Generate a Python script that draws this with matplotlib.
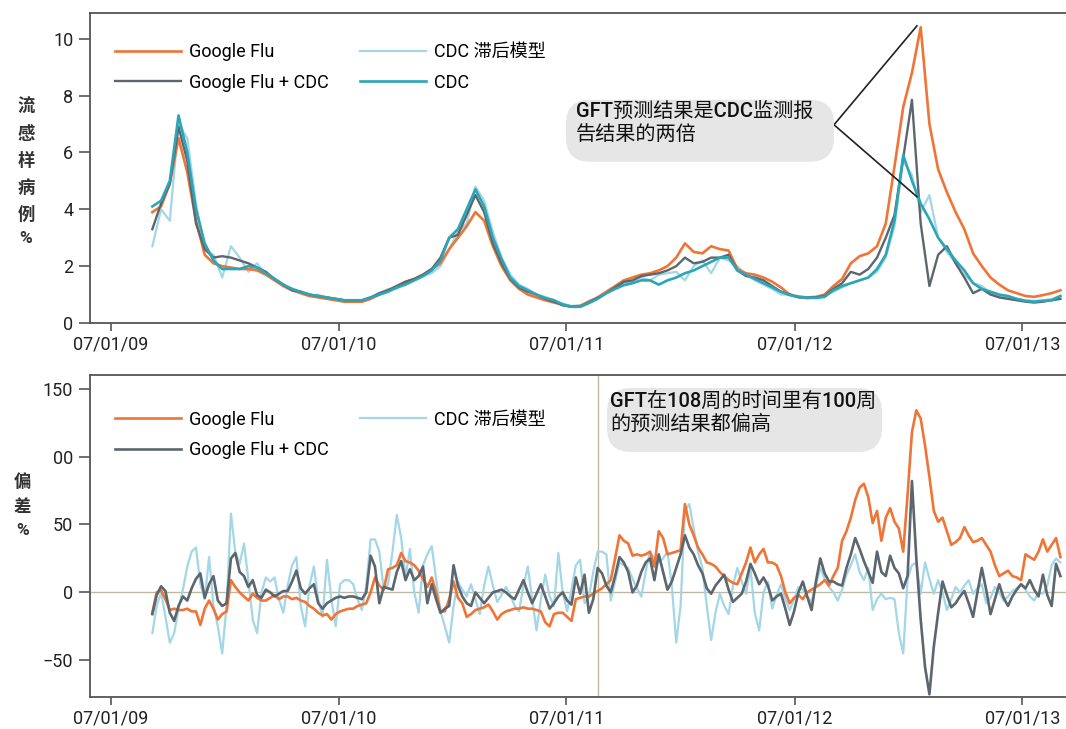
import matplotlib
matplotlib.use("Agg")
import matplotlib.pyplot as plt
import matplotlib.dates as mdates
from matplotlib.patches import FancyBboxPatch
import pandas as pd

plt.rcParams['font.family'] = ['Roboto', 'Noto Sans CJK SC', 'DejaVu Sans']

# colours of the four series
C_GF = '#f07436'
C_GFCDC = '#5b666e'
C_LAG = '#a3d6e6'
C_CDC = '#2ba6b7'

# top panel: ILI % (every two weeks)
top_dates = pd.date_range('2009-09-05', periods=105, freq='14D')

ili_cdc = [4.1, 4.3, 5.0, 7.3, 6.0, 4.0, 2.8, 2.2, 1.9, 1.9,
           1.9, 2.0, 1.95, 1.75, 1.55, 1.35, 1.2, 1.1, 1.0, 0.95,
           0.9, 0.85, 0.8, 0.8, 0.8, 0.9, 1.0, 1.1, 1.25, 1.35,
           1.5, 1.65, 1.85, 2.2, 3.0, 3.3, 4.0, 4.7, 4.1, 3.0,
           2.25, 1.6, 1.3, 1.15, 1.0, 0.88, 0.8, 0.65, 0.57, 0.57,
           0.7, 0.85, 1.05, 1.2, 1.33, 1.4, 1.5, 1.5, 1.35, 1.5,
           1.6, 1.75, 1.85, 2.0, 2.15, 2.3, 2.3, 1.85, 1.7, 1.55,
           1.4, 1.25, 1.1, 0.98, 0.92, 0.9, 0.88, 0.92, 1.15, 1.3,
           1.4, 1.5, 1.6, 1.9, 2.4, 3.6, 5.9, 5.0, 4.2, 3.65,
           3.0, 2.6, 2.2, 1.85, 1.4, 1.2, 1.1, 1.0, 0.95, 0.85,
           0.78, 0.75, 0.78, 0.8, 0.95]

ili_google = [3.9, 4.1, 4.9, 6.5, 5.3, 3.6, 2.4, 2.1, 2.0, 1.95,
              1.9, 1.9, 1.85, 1.7, 1.5, 1.3, 1.15, 1.05, 0.95, 0.9,
              0.85, 0.8, 0.75, 0.75, 0.75, 0.85, 1.0, 1.15, 1.3, 1.45,
              1.55, 1.7, 1.9, 2.1, 2.6, 3.0, 3.4, 3.9, 3.6, 2.7,
              2.0, 1.5, 1.2, 1.0, 0.9, 0.8, 0.72, 0.65, 0.58, 0.6,
              0.75, 0.9, 1.1, 1.3, 1.5, 1.6, 1.7, 1.75, 1.85, 2.0,
              2.3, 2.8, 2.5, 2.45, 2.7, 2.6, 2.55, 1.9, 1.75, 1.7,
              1.6, 1.45, 1.25, 1.0, 0.92, 0.9, 0.92, 1.0, 1.3, 1.55,
              2.1, 2.35, 2.45, 2.7, 3.5, 5.5, 7.6, 8.8, 10.4, 7.0,
              5.4, 4.6, 3.9, 3.3, 2.45, 2.0, 1.6, 1.35, 1.15, 1.05,
              0.95, 0.92, 0.98, 1.05, 1.15]

ili_google_cdc = [3.3, 4.2, 4.9, 6.9, 5.7, 3.5, 2.6, 2.3, 2.35, 2.3,
                  2.2, 2.1, 1.95, 1.8, 1.55, 1.35, 1.15, 1.1, 1.0, 0.95,
                  0.9, 0.85, 0.8, 0.8, 0.8, 0.9, 1.05, 1.15, 1.3, 1.45,
                  1.55, 1.7, 1.9, 2.3, 3.0, 3.1, 3.8, 4.5, 3.9, 2.8,
                  2.1, 1.55, 1.25, 1.1, 1.0, 0.85, 0.75, 0.62, 0.57, 0.58,
                  0.72, 0.88, 1.05, 1.25, 1.45, 1.5, 1.65, 1.7, 1.75, 1.85,
                  2.0, 2.3, 2.1, 2.15, 2.3, 2.3, 2.4, 1.85, 1.65, 1.6,
                  1.5, 1.3, 1.1, 1.0, 0.9, 0.9, 0.9, 0.95, 1.2, 1.4,
                  1.8, 1.7, 1.9, 2.3, 3.0, 3.8, 5.8, 7.85, 3.5, 1.3,
                  2.4, 2.7, 2.1, 1.6, 1.05, 1.2, 1.0, 0.9, 0.85, 0.8,
                  0.75, 0.72, 0.75, 0.8, 0.85]

ili_lagged = [2.7, 4.0, 3.6, 7.0, 6.5, 4.2, 2.6, 2.4, 1.6, 2.7,
              2.3, 1.8, 2.1, 1.7, 1.55, 1.35, 1.2, 1.05, 0.95, 1.0,
              0.85, 0.85, 0.8, 0.8, 0.75, 0.85, 1.05, 1.2, 1.2, 1.4,
              1.5, 1.65, 1.75, 2.0, 2.6, 3.2, 3.5, 4.8, 4.3, 3.2,
              2.3, 1.7, 1.35, 1.2, 1.0, 0.92, 0.8, 0.68, 0.6, 0.62,
              0.78, 0.9, 1.05, 1.2, 1.4, 1.45, 1.6, 1.5, 1.7, 1.75,
              1.8, 1.5, 2.0, 2.2, 1.75, 2.3, 2.2, 2.0, 1.7, 1.5,
              1.35, 1.2, 1.0, 1.0, 0.95, 0.85, 0.9, 1.0, 1.1, 1.25,
              1.4, 1.5, 1.6, 1.8, 2.3, 3.4, 5.7, 5.2, 3.9, 4.5,
              3.0, 2.5, 2.1, 1.7, 1.4, 1.3, 1.05, 0.95, 0.9, 0.85,
              0.8, 0.78, 0.8, 0.85, 0.95]

# bottom panel: error % (weekly)
bottom_dates = pd.date_range('2009-09-05', periods=209, freq='7D')

err_google = [-15,
              0, 1.5, -5, -13, -12, -13, -13, -12, -14, -14, -24, -12, -6, -12, -20, -16, -14, 9, 4, 0, -3,
              -6, -1, -4, -6, -6, -4, -2, -5, -3, -3, -5, -4, -6, -7, -10, -12, -15, -17, -16, -20,
              -16, -14, -13, -12, -12, -10, -9, -8, 0, 11, 5, 2, 17, 18, 20, 29, 23, 22,
              20, 16, 10, 4, 11, 0, -14, -14, -5, 8, -4, -8, -18, -16, -13, -12, -11, -9, -14, -20,
              -16, -14, -13, -12, -12, -11, -12, -12, -13, -14, -22, -25, -16, -15, -15, -18, -21, -5, -4,
              -3, -3, -1, 1, 3, 6, 9, 25, 42, 38, 36, 27, 28, 27, 28, 30, 19, 45, 40, 28,
              29, 30, 31, 65, 50, 42, 33, 28, 22, 21, 19, 15, 12, 9, 7, 6, 14, 22,
              33, 22, 28, 32, 22, 22, 20, 12, 0, -8, -4, -2, -5, 0, 2, 4, 6, 9, 5, 12,
              18, 38, 45, 55, 68, 77, 80, 70, 51, 60, 38, 55, 62, 52, 47, 30, 72, 118,
              134, 128, 108, 85, 60, 52, 55, 45, 35, 37, 40, 48, 42, 37, 38, 40, 35, 30, 20, 12,
              14, 16, 12, 11, 9, 28, 26, 24, 30, 39, 30, 35, 40, 26]

err_google_cdc = [-16,
                  -2, 4.5, 1, -15, -21, -10, -3, -6, 3, 10, 14, -4, 6, 12, -6, -10, -8, 25, 29, 15, 12,
                  4, 9, -2, -4, 2, 0, -3, -1, 1, 1, 8, 16, 3, -1, 3, 6, -8, -12, -8, -6,
                  -4, -3, -4, -3, -3, -4, -5, 0, 27, 19, -8, 4, 3, 2, 15, 23, 9, 17,
                  9, 12, 19, -8, 6, -5, -15, -12, -10, 20, 5, -3, -8, -10, 0, -4, -8, -4, 0, 1,
                  2, 0, -3, -5, 2, 9, 0, -8, -1, 6, -3, -12, -8, -3, 0, -6, -9, 11, -1,
                  13, -15, -5, 18, 14, 5, 0, 12, 26, 22, 15, 0, 5, 15, 22, 25, 9, 28, 15, 2,
                  8, 18, 28, 42, 33, 28, 20, 14, 3, -1, 5, 9, 13, 2, -7, -4, -1, 8,
                  21, 14, 6, 11, 5, -6, -3, -1, -12, -24, -14, 0, 8, -3, -13, 8, 25, 14, 8, 8,
                  6, 5, 18, 28, 40, 32, 23, 15, 7, 30, 15, 12, 27, 18, 14, 3, 12, 82,
                  25, -20, -55, -75, -40, -15, 8, -2, -11, -8, -3, 1, -8, -18, 0, 18, 2, -16, -5, 6,
                  -4, -10, -3, 2, 6, 3, 9, 2, -3, 13, -2, -10, 21, 12]

err_lagged = [-30,
              -10, 0, -18, -37, -30, -12, 2, 19, 30, 33, 6, -5, 26, -10, -25, -45, -10, 58, 30, 21, 36,
              9, -20, -30, 0, 11, 8, 11, -5, -15, 5, 20, 26, -10, -25, 5, 19, -5, -18, 24, -5,
              -25, 6, 9, 9, 6, -5, -13, 5, 39, 39, 30, 2, 6, 30, 57, 40, 11, 32,
              0, -15, 20, 28, 34, 10, -14, -25, -37, -10, 8, 2, -3, 6, -5, -16, 5, 19, 5, -7,
              -2, 4, -2, -10, -14, 5, 19, -5, -28, -5, 13, -3, -10, 29, 0, -14, 2, 20, 24,
              -8, -3, 15, 30, 30, 28, -6, 8, 22, 20, 18, 10, 3, -3, 15, 30, 25, 22, 25, 30,
              5, -37, -10, 60, 65, 47, 30, 18, -10, -35, -15, -1, -10, -16, 5, 18, 8, -1,
              18, -15, -28, 0, 8, -12, -2, 6, -5, -13, -5, 4, 2, -3, -7, 5, 18, 10, 4, 0,
              -6, 2, 13, 20, 28, 15, 9, 18, -13, -5, -1, -5, -4, -5, -30, -45, 10, 20,
              22, -1, 22, 10, -1, 9, 0, -13, -5, 4, 0, 5, 9, -1, 3, 6, -8, -4, 4, 0,
              -6, -3, 1, 3, 6, 2, -3, -6, 0, -1, 5, 20, 25, 22]

tick_dates = ['2009-07-01', '2010-07-01', '2011-07-01', '2012-07-01', '2013-07-01']
top_yticks = [0, 2, 4, 6, 8, 10]
bottom_yticks = [-50, 0, 50, 100, 150]
bottom_ylabels = ['\u221250', '0', '50', '00', '150']

# callout wedge pointing at the 2013 peak, and the start of the GFT over-estimation
wedge_dates = ['2013-01-13', '2012-09-02', '2013-01-13']
wedge_vals = [10.45, 6.97, 4.44]
marker_date = '2011-08-21'

fig = plt.figure(figsize=(10.66, 7.29), dpi=100)
ax1 = fig.add_axes([0.0844, 0.5569, 0.9156, 0.4252])
ax2 = fig.add_axes([0.0844, 0.0439, 0.9156, 0.4417])

# top panel lines
ax1.plot(top_dates, ili_lagged, color=C_LAG, lw=1.6, label='CDC 滞后模型')
ax1.plot(top_dates, ili_google, color=C_GF, lw=1.9, label='Google Flu')
ax1.plot(top_dates, ili_google_cdc, color=C_GFCDC, lw=1.7, label='Google Flu + CDC')
ax1.plot(top_dates, ili_cdc, color=C_CDC, lw=1.9, label='CDC')
ax1.plot(pd.to_datetime(wedge_dates), wedge_vals, color='#222222', lw=1.2)

# bottom panel lines
ax2.axhline(0, color='#bdb8a4', lw=1, zorder=1)
ax2.axvline(pd.Timestamp(marker_date), color='#bdb8a4', lw=1, zorder=1)
ax2.plot(bottom_dates, err_lagged, color=C_LAG, lw=1.6, label='CDC 滞后模型')
ax2.plot(bottom_dates, err_google, color=C_GF, lw=1.9, label='Google Flu')
ax2.plot(bottom_dates, err_google_cdc, color=C_GFCDC, lw=1.9, label='Google Flu + CDC')

xmin, xmax = pd.Timestamp('2009-05-28'), pd.Timestamp('2013-09-09')
for ax in (ax1, ax2):
    ax.set_xlim(xmin, xmax)
    ax.set_xticks(pd.to_datetime(tick_dates))
    ax.xaxis.set_major_formatter(mdates.DateFormatter('%m/%d/%y'))
    ax.spines['right'].set_visible(False)
    for s in ('left', 'bottom', 'top'):
        ax.spines[s].set_color('#555555')
        ax.spines[s].set_linewidth(1.3)
    ax.tick_params(axis='y', direction='out', length=8, width=1.2, color='#555555',
                   labelsize=13, pad=4, labelcolor='#222222')
    ax.tick_params(axis='x', direction='out', length=6, width=1.2, color='#555555',
                   labelsize=13, pad=3, labelcolor='#222222')

ax1.set_ylim(0, 10.9)
ax1.set_yticks(top_yticks)
ax2.set_ylim(-77, 160)
ax2.set_yticks(bottom_yticks, bottom_ylabels)

# legends
leg_kw = dict(ncol=2, loc='upper left', frameon=False, handlelength=3.65,
              handletextpad=0.45, columnspacing=1.75, labelspacing=0.68,
              borderpad=0, borderaxespad=0, fontsize=13)
h1 = {l.get_label(): l for l in ax1.get_lines()}
ax1.legend([h1['Google Flu'], h1['Google Flu + CDC'], h1['CDC 滞后模型'], h1['CDC']],
           ['Google Flu', 'Google Flu + CDC', 'CDC 滞后模型', 'CDC'],
           bbox_to_anchor=(0.0256, 0.902), **leg_kw)
h2 = {l.get_label(): l for l in ax2.get_lines()}
ax2.legend([h2['Google Flu'], h2['Google Flu + CDC'], h2['CDC 滞后模型']],
           ['Google Flu', 'Google Flu + CDC', 'CDC 滞后模型'],
           bbox_to_anchor=(0.0256, 0.889), **leg_kw)

# callouts: rounded grey boxes with text
def callout(ax, x0, x1, y0, y1, tx, ty, text):
    w_px = ax.get_position().width * fig.get_figwidth() * fig.dpi
    h_px = ax.get_position().height * fig.get_figheight() * fig.dpi
    r = 24 / w_px
    ax.add_patch(FancyBboxPatch((x0, y0), x1 - x0, y1 - y0,
                                boxstyle='round,pad=0,rounding_size=%f' % r,
                                mutation_aspect=w_px / h_px, transform=ax.transAxes,
                                fc='#e6e6e6', ec='none', zorder=4))
    ax.text(tx, ty, text, transform=ax.transAxes, ha='left', va='center',
            fontsize=14.5, linespacing=1.25, fontweight='medium', color='#111111', zorder=5)

callout(ax1, 0.4877, 0.7623, 0.5203, 0.7203, 0.4980, 0.6445,
        'GFT预测结果是CDC监测报\n告结果的两倍')
callout(ax2, 0.5297, 0.8115, 0.7609, 0.9596, 0.5328, 0.8820,
        'GFT在108周的时间里有100周\n的预测结果都偏高')

# stacked vertical axis titles
fig.text(0.0244, 0.764, '流\n感\n样\n病\n例\n%', ha='center', va='center',
         fontsize=12.5, linespacing=1.7, fontweight='bold', color='#333333')
fig.text(0.021, 0.306, '偏\n差\n%', ha='center', va='center',
         fontsize=12.5, linespacing=1.7, fontweight='bold', color='#333333')

fig.savefig('out.png', dpi=100)
